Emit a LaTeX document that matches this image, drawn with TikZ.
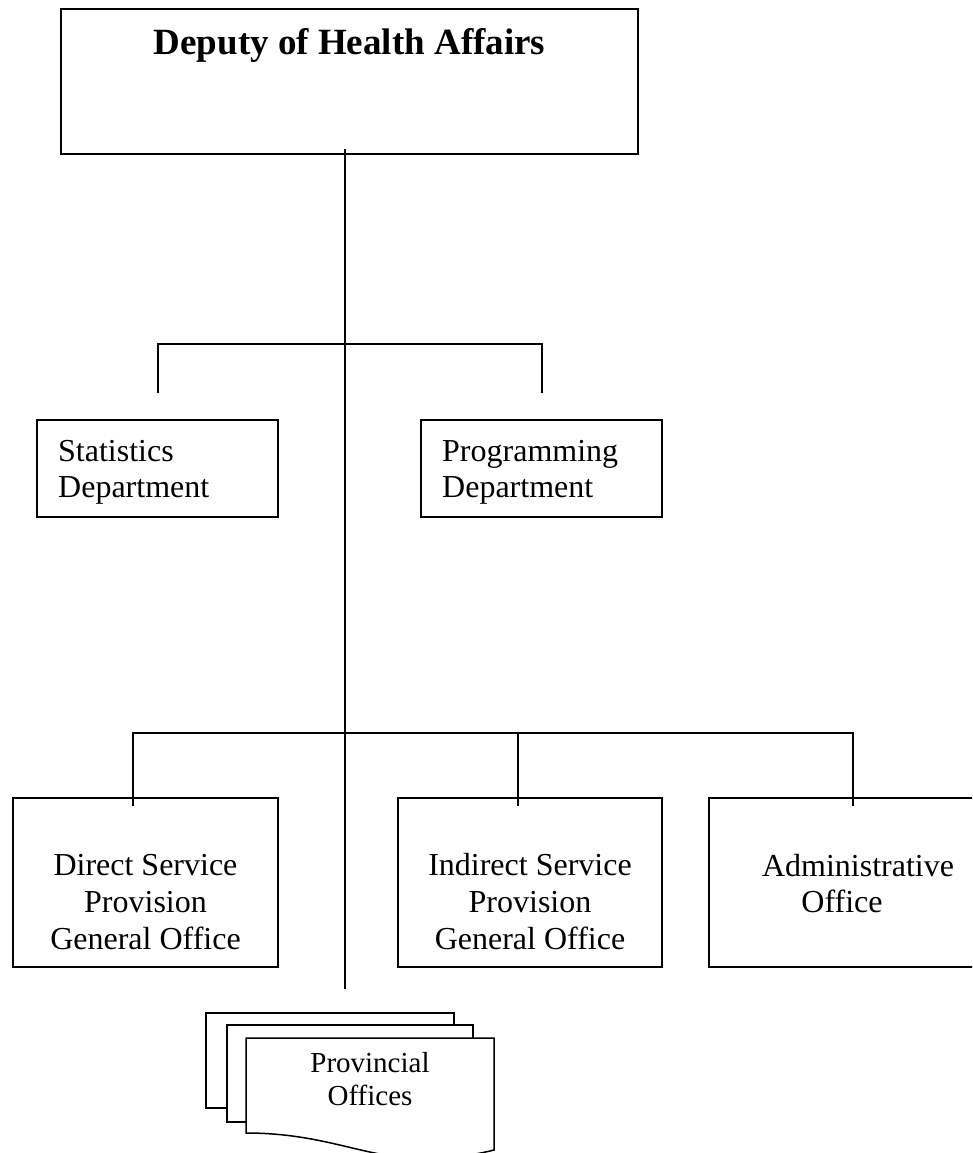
\documentclass[tikz,border=0pt]{standalone}
\usepackage{fontspec}
\setmainfont{Liberation Serif}
\begin{document}
\begin{tikzpicture}[x=1pt,y=-1pt,
  box/.style={draw=black,line width=1.4pt,rectangle,inner sep=0pt},
  txt/.style={inner sep=0pt,font=\fontsize{32}{36.6}\selectfont},
  conn/.style={draw=black,line width=1.4pt,line join=miter},
  docshape/.style={draw=black,line width=1.5pt,fill=white,line join=miter}]
\useasboundingbox (0,0) rectangle (972,1153);
\begin{scope}
\clip (0,0) rectangle (972,1153);
% boxes
\node[box,minimum width=577pt,minimum height=145pt] (top) at (349.5,81.5) {};
\node[box,minimum width=241pt,minimum height=97pt] (stat) at (157.5,468.5) {};
\node[box,minimum width=241pt,minimum height=97pt] (prog) at (541.5,468.5) {};
\node[box,minimum width=265pt,minimum height=169pt] (direct) at (145.5,882.5) {};
\node[box,minimum width=264pt,minimum height=169pt] (indirect) at (530,882.5) {};
\node[box,minimum width=298pt,minimum height=169pt] (admin) at (858,882.5) {};
% texts (base anchor = baseline of the last line)
\node[inner sep=0pt,anchor=base,font=\fontsize{37}{41}\selectfont\bfseries] (ttl) at (349.5,55) {Deputy of Health Affairs};
\node[txt,anchor=base west,align=left] (statT) at (58,497.6) {Statistics\\Department};
\node[txt,anchor=base west,align=left] (progT) at (442,497.6) {Programming\\Department};
\node[txt,anchor=base,align=center] (dirT) at (145.5,949) {Direct Service\\Provision\\General Office};
\node[txt,anchor=base,align=center] (indT) at (530,949) {Indirect Service\\Provision\\General Office};
\node[txt,anchor=base,align=center] (admT) at (858,912.6) {Administrative\\Office\hspace*{32pt}};
% connector coordinates
\coordinate (trunkTop) at (345,149);
\coordinate (trunkEnd) at (345,989);
\coordinate (s1) at (158,393);
\coordinate (s2) at (542,393);
\coordinate (b1L) at (158,344);
\coordinate (b1R) at (542,344);
\coordinate (d1) at (133,806);
\coordinate (d2) at (518,806);
\coordinate (d3) at (853,806);
\coordinate (b2L) at (133,733);
\coordinate (b2M) at (518,733);
\coordinate (b2R) at (853,733);
\draw[conn] (trunkTop) -- (trunkEnd);
\draw[conn] (s1) -- (b1L) -- (b1R) -- (s2);
\draw[conn] (d1) -- (b2L) -- (b2R) -- (d3);
\draw[conn] (b2M) -- (d2);
% provincial offices (multi-document)
\draw[docshape] (227,1108) -- (206,1108) -- (206,1013) -- (454,1013) -- (454,1025);
\draw[docshape] (246,1122) -- (227,1122) -- (227,1025) -- (473,1025) -- (473,1038);
\draw[docshape] (246,1038) -- (494,1038) -- (494,1150)
  .. controls (470,1156) and (440,1160) .. (410,1158)
  .. controls (360,1155) and (320,1133) .. (246,1133) -- cycle;
\node[inner sep=0pt,anchor=base,align=center,font=\fontsize{29}{33}\selectfont] (provT) at (370,1105) {Provincial\\Offices};
\end{scope}
\end{tikzpicture}
\end{document}
